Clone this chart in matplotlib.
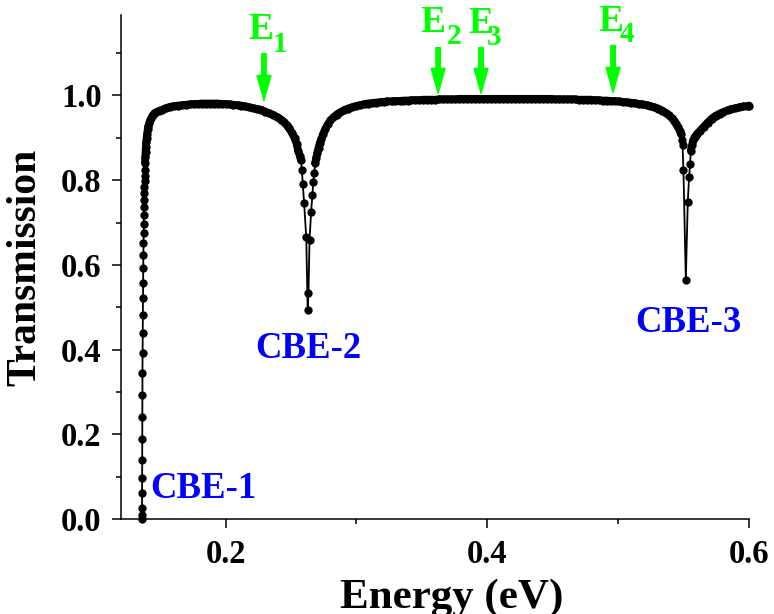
import matplotlib
matplotlib.use("Agg")
import matplotlib.pyplot as plt
from matplotlib.ticker import MultipleLocator, FixedLocator

# ---------------- data ----------------
energy_edge = [0.1360, 0.1360, 0.1361, 0.1361, 0.1362, 0.1362, 0.1363, 0.1363, 0.1364, 0.1364,
               0.1365, 0.1366, 0.1367, 0.1368, 0.1369, 0.1370, 0.1371, 0.1372, 0.1373, 0.1374,
               0.1375, 0.1376, 0.1377, 0.1378, 0.1379, 0.1380, 0.1381, 0.1382, 0.1384, 0.1386,
               0.1388, 0.1390, 0.1393, 0.1396, 0.1400, 0.1405, 0.1410, 0.1416, 0.1423, 0.1431,
               0.1439, 0.1448, 0.1458]
trans_edge = [0.000, 0.010, 0.027, 0.061, 0.097, 0.139, 0.189, 0.241, 0.292, 0.344,
              0.392, 0.439, 0.481, 0.521, 0.557, 0.592, 0.623, 0.651, 0.675, 0.696,
              0.717, 0.736, 0.752, 0.769, 0.784, 0.798, 0.811, 0.823, 0.840, 0.855,
              0.867, 0.878, 0.889, 0.899, 0.910, 0.920, 0.928, 0.935, 0.941, 0.946,
              0.951, 0.955, 0.959]

energy_band1 = [0.1487, 0.1512, 0.1543, 0.1573, 0.1603, 0.1634, 0.1664, 0.1695, 0.1725, 0.1756,
                0.1786, 0.1817, 0.1847, 0.1877, 0.1908, 0.1938, 0.1969, 0.1999, 0.2030, 0.2060,
                0.2091, 0.2121, 0.2151, 0.2182, 0.2212, 0.2243, 0.2273, 0.2304, 0.2334, 0.2365,
                0.2395, 0.2425, 0.2446, 0.2466, 0.2486, 0.2507, 0.2527, 0.2542, 0.2554, 0.2566,
                0.2576]
trans_band1 = [0.963, 0.966, 0.970, 0.973, 0.975, 0.976, 0.977, 0.978, 0.979, 0.980,
               0.980, 0.981, 0.981, 0.981, 0.981, 0.981, 0.980, 0.980, 0.979, 0.978,
               0.977, 0.976, 0.974, 0.972, 0.970, 0.968, 0.966, 0.962, 0.958, 0.954,
               0.949, 0.943, 0.937, 0.930, 0.922, 0.912, 0.899, 0.886, 0.870, 0.858,
               0.847]

energy_dip2 = [0.2583, 0.2589, 0.2600, 0.2616, 0.2627, 0.2633, 0.2641, 0.2653, 0.2663, 0.2670,
               0.2678, 0.2684, 0.2692, 0.2701, 0.2710, 0.2720, 0.2732, 0.2746, 0.2762, 0.2781,
               0.2801, 0.2823, 0.2848, 0.2874, 0.2903, 0.2933, 0.2963]
trans_dip2 = [0.823, 0.792, 0.745, 0.665, 0.493, 0.533, 0.658, 0.724, 0.764, 0.795,
              0.818, 0.840, 0.853, 0.865, 0.877, 0.888, 0.898, 0.910, 0.921, 0.932,
              0.941, 0.948, 0.955, 0.960, 0.965, 0.969, 0.972]

energy_band2 = [0.2994, 0.3024, 0.3055, 0.3085, 0.3116, 0.3146, 0.3177, 0.3207, 0.3237, 0.3268,
                0.3298, 0.3329, 0.3359, 0.3390, 0.3420, 0.3451, 0.3481, 0.3511, 0.3542, 0.3572,
                0.3603, 0.3633, 0.3664, 0.3694, 0.3725, 0.3755, 0.3785, 0.3816, 0.3846, 0.3877,
                0.3907, 0.3938, 0.3968, 0.3999, 0.4029, 0.4060, 0.4090, 0.4120, 0.4151, 0.4181,
                0.4212, 0.4242, 0.4273, 0.4303, 0.4334, 0.4364, 0.4394, 0.4425, 0.4455, 0.4486,
                0.4516, 0.4547, 0.4577, 0.4608, 0.4638, 0.4668, 0.4699, 0.4729, 0.4760, 0.4790,
                0.4821, 0.4851, 0.4882, 0.4912, 0.4942, 0.4973, 0.5003, 0.5034, 0.5064, 0.5095,
                0.5125, 0.5156, 0.5186, 0.5217, 0.5247, 0.5277, 0.5308, 0.5338, 0.5369, 0.5389,
                0.5409, 0.5430, 0.5445, 0.5458, 0.5470, 0.5479]
trans_band2 = [0.975, 0.977, 0.979, 0.981, 0.982, 0.983, 0.984, 0.985, 0.986, 0.986,
               0.987, 0.987, 0.988, 0.988, 0.989, 0.989, 0.989, 0.990, 0.990, 0.990,
               0.990, 0.991, 0.991, 0.991, 0.991, 0.991, 0.992, 0.992, 0.992, 0.992,
               0.992, 0.992, 0.992, 0.992, 0.992, 0.992, 0.992, 0.992, 0.992, 0.992,
               0.992, 0.992, 0.992, 0.992, 0.992, 0.992, 0.992, 0.992, 0.992, 0.992,
               0.991, 0.991, 0.991, 0.991, 0.991, 0.991, 0.990, 0.990, 0.990, 0.990,
               0.989, 0.989, 0.988, 0.988, 0.987, 0.987, 0.986, 0.985, 0.984, 0.983,
               0.982, 0.980, 0.979, 0.977, 0.975, 0.972, 0.969, 0.964, 0.958, 0.953,
               0.947, 0.940, 0.933, 0.925, 0.917, 0.910]

energy_dip3 = [0.5486, 0.5492, 0.5499, 0.5517, 0.5532, 0.5542, 0.5550, 0.5555, 0.5564, 0.5573,
               0.5587, 0.5605, 0.5627, 0.5653, 0.5683, 0.5714, 0.5744, 0.5775, 0.5805, 0.5836,
               0.5866, 0.5896, 0.5927, 0.5957, 0.5988, 0.6000]
trans_dip3 = [0.896, 0.882, 0.823, 0.564, 0.748, 0.807, 0.839, 0.870, 0.882, 0.894,
              0.903, 0.910, 0.917, 0.926, 0.936, 0.945, 0.952, 0.957, 0.961, 0.965,
              0.968, 0.970, 0.972, 0.974, 0.975, 0.976]

energy = energy_edge + energy_band1 + energy_dip2 + energy_band2 + energy_dip3
transmission = trans_edge + trans_band1 + trans_dip2 + trans_band2 + trans_dip3

# state energies marked by arrows
state_names = ["1", "2", "3", "4"]
state_energy = [0.2293, 0.3624, 0.3952, 0.4961]

# band-edge labels
cbe_labels = ["CBE-1", "CBE-2", "CBE-3"]

x_ticks = [0.2, 0.4, 0.6]
y_ticks = [0.0, 0.2, 0.4, 0.6, 0.8, 1.0]

# ---------------- drawing ----------------
plt.rcParams["font.family"] = ["Liberation Serif", "DejaVu Serif"]
plt.rcParams["font.weight"] = "bold"

fig = plt.figure(figsize=(7.74, 6.14), dpi=100)
ax = fig.add_axes([0.1563, 0.1547, 0.8114, 0.8209])

# thin line + markers for every point
ax.plot(energy, transmission, "-o", color="black", lw=1.3, ms=6.0,
        markeredgewidth=0, clip_on=False, zorder=3)

# dense overlapping markers form a thick band where the curve is flat
band_kw = dict(color="black", lw=5.6, solid_capstyle="round",
               solid_joinstyle="round", zorder=3)
ax.plot(energy_edge[28:] + energy_band1, trans_edge[28:] + trans_band1, **band_kw)
ax.plot(energy_dip2[11:] + energy_band2, trans_dip2[11:] + trans_band2, **band_kw)
ax.plot(energy_dip3[7:], trans_dip3[7:], clip_on=False, **band_kw)

ax.set_xlim(0.12, 0.6)
ax.set_ylim(0.0, 1.19)

for s in ["top", "right"]:
    ax.spines[s].set_visible(False)
for s in ["left", "bottom"]:
    ax.spines[s].set_linewidth(1.1)

ax.xaxis.set_major_locator(FixedLocator(x_ticks))
ax.xaxis.set_minor_locator(FixedLocator([0.3, 0.5]))
ax.yaxis.set_major_locator(FixedLocator(y_ticks))
ax.yaxis.set_minor_locator(MultipleLocator(0.1))
ax.set_xticklabels([f"{v:.1f}" for v in x_ticks])
ax.set_yticklabels([f"{v:.1f}" for v in y_ticks])
ax.tick_params(which="major", direction="out", length=6.5, width=1.1,
               labelsize=23.5)
ax.tick_params(axis="y", which="major", pad=7.5)
ax.tick_params(axis="x", which="major", pad=8)
ax.tick_params(which="minor", direction="out", length=3.6, width=1.1)
for lab in ax.get_xticklabels() + ax.get_yticklabels():
    lab.set_fontweight("bold")

ax.set_xlabel("Energy (eV)", fontsize=31, fontweight="bold")
ax.set_ylabel("Transmission", fontsize=30, fontweight="bold")
ax.xaxis.set_label_coords(0.527, -0.119)
ax.yaxis.set_label_coords(-0.1226, 0.5)

# band-edge labels (blue)
cbe_pos = [(0.1422, 0.050), (0.2224, 0.380), (0.5130, 0.441)]
for name, (x, y) in zip(cbe_labels, cbe_pos):
    ax.text(x, y, name, color="#0000ff", fontsize=26.5, fontweight="bold",
            ha="left", va="baseline")

# arrows and E_n labels (green)
green = "#00ff00"
arrow_top = [1.099, 1.113, 1.113, 1.118]
arrow_tip = [0.988, 1.005, 1.005, 1.007]
e_left = [0.2171, 0.3486, 0.3853, 0.4847]
e_base = [1.134, 1.149, 1.147, 1.153]
sub_left = [0.2362, 0.3692, 0.3996, 0.5015]
sub_base = [1.102, 1.122, 1.118, 1.126]
for i, x in enumerate(state_energy):
    ax.annotate("", xy=(x, arrow_tip[i]), xytext=(x, arrow_top[i]),
                arrowprops=dict(facecolor=green, edgecolor=green, width=3.2,
                                headwidth=10, headlength=18, shrink=0),
                annotation_clip=False)
    ax.text(e_left[i], e_base[i], "E", color=green, fontsize=27,
            fontweight="bold", ha="left", va="baseline", clip_on=False)
    ax.text(sub_left[i], sub_base[i], state_names[i], color=green, fontsize=21,
            fontweight="bold", ha="left", va="baseline", clip_on=False)

fig.savefig("out.png", dpi=100)
